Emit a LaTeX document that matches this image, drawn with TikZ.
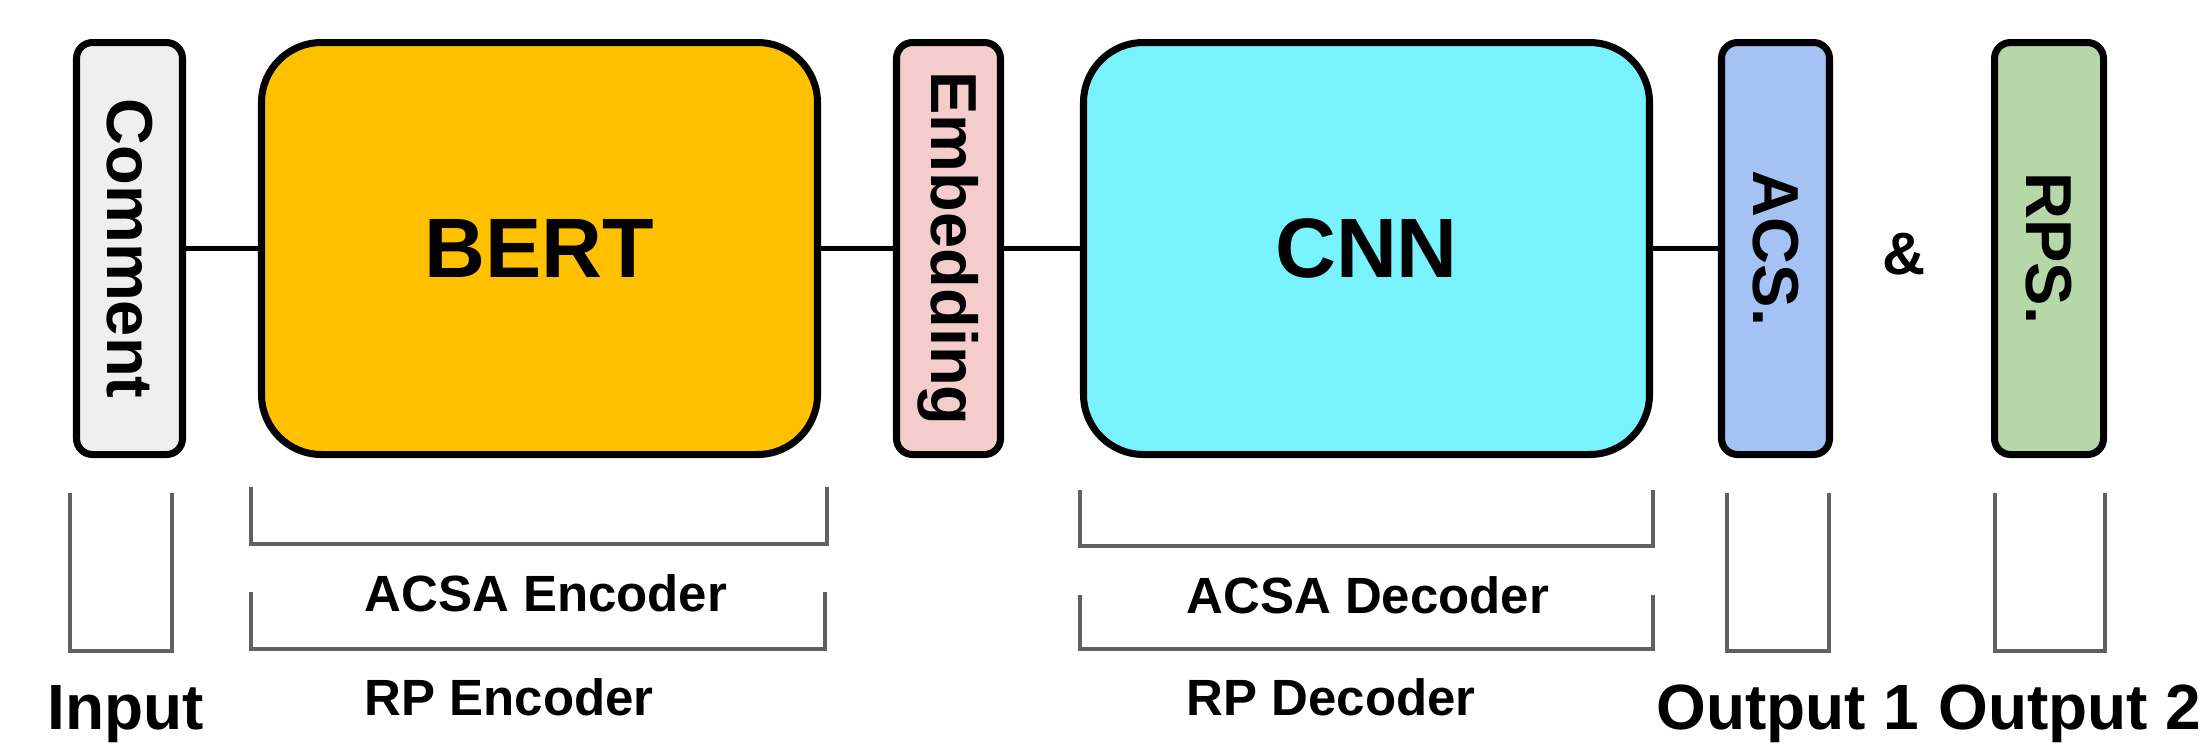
\documentclass[tikz,border=0pt]{standalone}
\usepackage{fontspec}
\setmainfont{Liberation Sans}
\definecolor{commentgray}{HTML}{EFEFEF}
\definecolor{bertorange}{HTML}{FFC000}
\definecolor{embedpink}{HTML}{F4CCCC}
\definecolor{cnncyan}{HTML}{78F3FD}
\definecolor{acsblue}{HTML}{A4C2F4}
\definecolor{rpsgreen}{HTML}{B6D7A8}
\begin{document}
\begin{tikzpicture}[x=0.1mm,y=-0.1mm,inner sep=0pt,
    strip/.style={draw,line width=2pt,rounded corners=1.6mm,rotate=-90,
        minimum width=41.2mm,minimum height=10.6mm,font=\fontsize{18.5}{22}\selectfont\bfseries},
    block/.style={draw,line width=2pt,rounded corners=6mm,
        minimum width=55.6mm,minimum height=41.2mm,font=\fontsize{24}{28}\selectfont\bfseries},
    link/.style={line width=1.4pt},
    span/.style={draw=black!62,line width=0.9pt},
    part/.style={anchor=west,font=\fontsize{14.5}{16}\selectfont\bfseries},
    io/.style={anchor=base,font=\fontsize{18.2}{20}\selectfont\bfseries}]
            \useasboundingbox (0,0) rectangle (2211,743);
            \node[strip,fill=commentgray] (comment) at (129.5,248.5) {Comment};
            \node[block,fill=bertorange] (bert) at (539.5,248.5) {BERT}
                edge [link] (comment)
            ;
            \node[strip,fill=embedpink,minimum height=10.4mm] (embed) at (948.5,248.5) {Embedding}
                edge [link] (bert)
            ;
            \node[block,fill=cnncyan,minimum width=56.6mm] (cnn) at (1366.5,248.5) {CNN}
                edge [link] (embed)
            ;
            \node[strip,fill=acsblue,minimum height=10.8mm] (acs) at (1775.5,248.5) {ACS.}
                edge [link] (cnn)
            ;
            \node[font=\fontsize{17}{19}\selectfont\bfseries] (and) at (1904,254) {\&};
            \node[strip,fill=rpsgreen,minimum height=10.9mm] (rps) at (2049,248.5) {RPS.};
            % spans under the blocks
            \draw[span] (70,493) |- (172,651) -- (172,493);
            \draw[span] (251,487) |- (827,544) -- (827,487);
            \draw[span] (251,592) |- (825,649) -- (825,592);
            \draw[span] (1080,490) |- (1653,546) -- (1653,490);
            \draw[span] (1080,595) |- (1653,649) -- (1653,595);
            \draw[span] (1727,493) |- (1829,651) -- (1829,493);
            \draw[span] (1995,493) |- (2105,651) -- (2105,493);
            \node[part] (acsaenc) at (364,593) {ACSA Encoder};
            \node[part] (rpenc) at (364,697) {RP Encoder};
            \node[part] (acsadec) at (1186,595) {ACSA Decoder};
            \node[part] (rpdec) at (1186,697) {RP Decoder};
            \node[io] (input) at (125.5,729) {Input};
            \node[io] (out1) at (1788,729) {Output 1};
            \node[io] (out2) at (2070,729) {Output 2};
        \end{tikzpicture}
\end{document}
